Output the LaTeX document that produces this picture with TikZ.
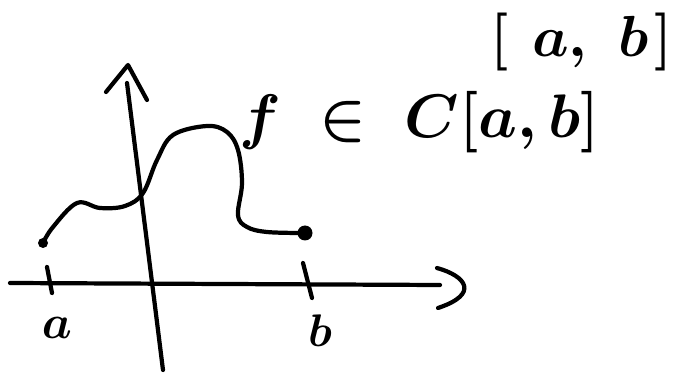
\documentclass[tikz,border=0pt]{standalone}
\usepackage{fix-cm}
\usepackage{amsmath,amssymb}
\usepackage{tikz}
\usetikzlibrary{arrows.meta,positioning}
\tikzset{pen/.style={line width=2.4pt, line cap=round, line join=round},
  hand/.style={inner sep=0pt, font=\fontsize{#1}{#1}\selectfont\boldmath}}

\begin{document}
\begin{tikzpicture}[x=0.02cm, y=-0.02cm]
\useasboundingbox (0,0) rectangle (677,375);

\coordinate (xl) at (10,283);
\coordinate (xr) at (440,285);
\coordinate (yb) at (163,370);
\coordinate (yt) at (127,83);
\draw[pen] (xl) -- (xr);
\draw[pen] (437,268) .. controls (466,276) and (480,294) .. (438,308);
\draw[pen] (yb) -- (yt);
\draw[pen] (106,92) -- (128,65) -- (147,100);

\draw[pen] plot[smooth, tension=0.6] coordinates {(43,243) (53,227) (77,203) (100,208) (125,206) (143,193) (157,160) (173,135) (207,126) (227,132) (238,150) (242,183) (238,215) (247,227) (267,232) (303,233)};
\fill (43,243) circle (5);
\fill (305,233) circle (7.5);

\draw[pen] (47,267) -- (52,293);
\draw[pen] (303,263) -- (312,298);

\node[hand=27] (la) at (57,328) {$a$};
\node[hand=26] (lb) at (320,331) {$b$};

\node[hand=35] (fin) at (420,122) {$f\hspace{0.3em}\in\hspace{0.3em}C[a,b]$};
\node[hand=33] (ab) at (582,42) {$[\hspace{0.4em}a,\hspace{0.35em}b\hspace{0.1em}]$};
\end{tikzpicture}
\end{document}
